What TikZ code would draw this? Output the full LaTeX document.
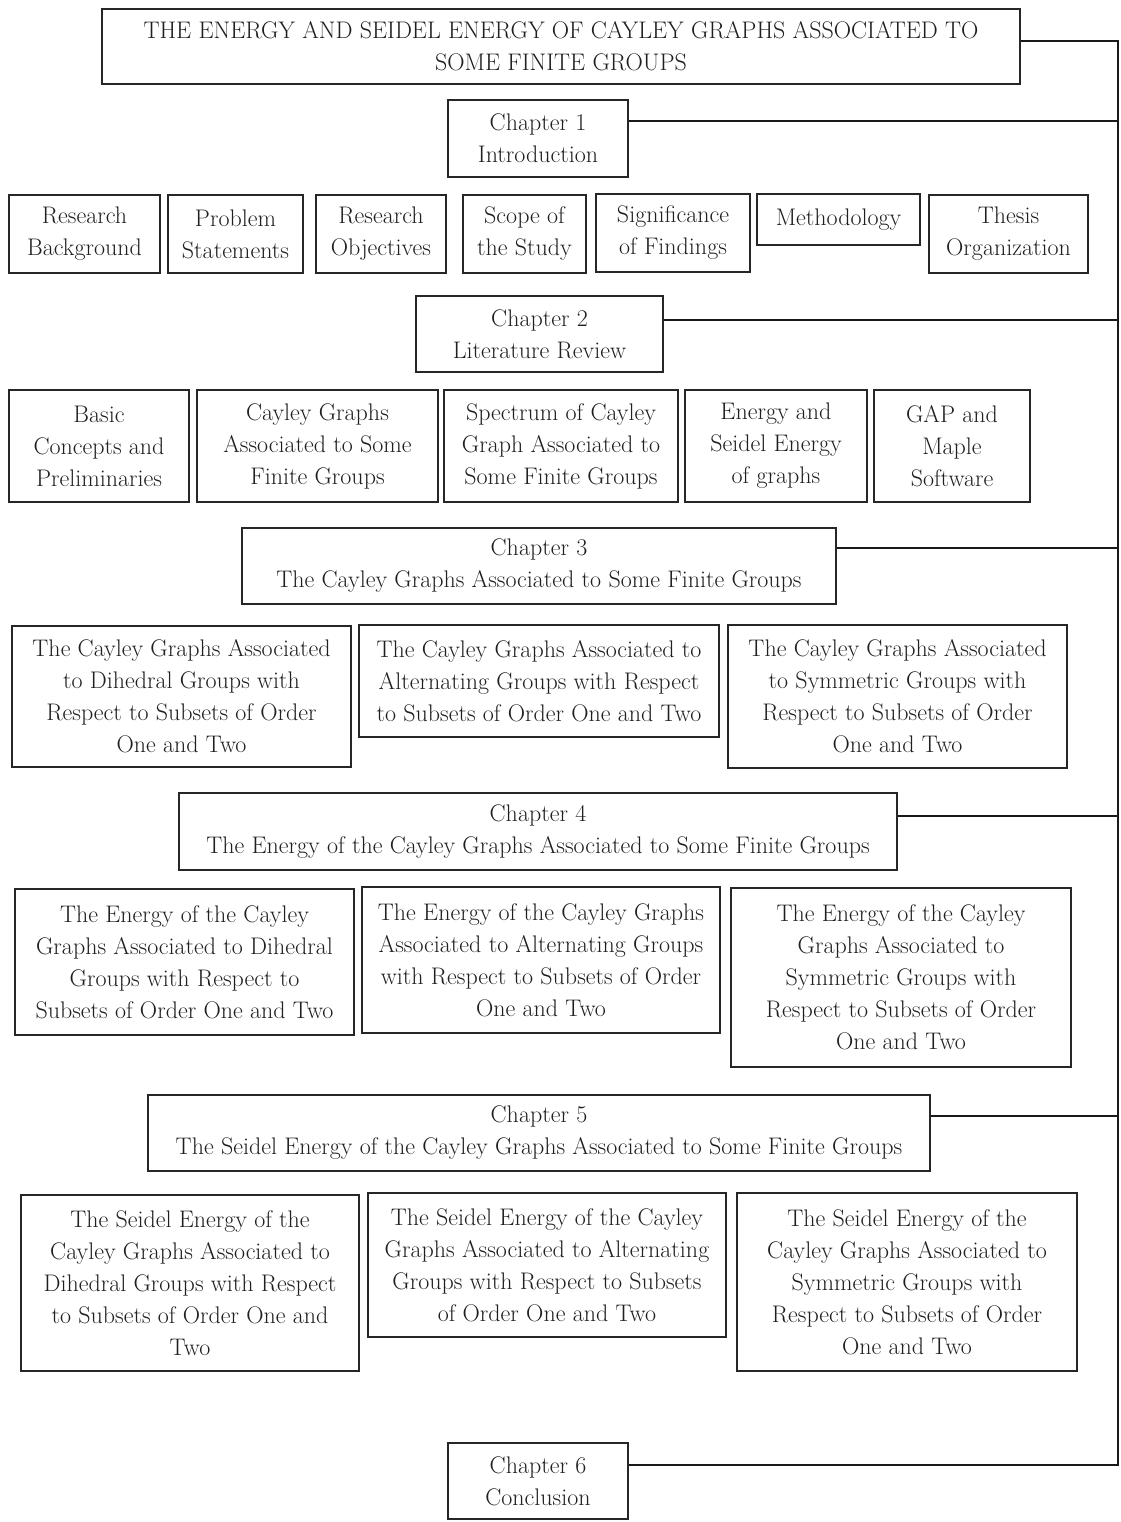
\documentclass[tikz,border=0pt]{standalone}
\usetikzlibrary{calc}
\tikzset{
  box/.style={draw=black!85, line width=1.2pt, rectangle, inner sep=0pt, align=center,
    text=black!88, font=\fontsize{24}{32}\selectfont},
  link/.style={draw=black!90, line width=1.2pt},
}
\begin{document}
\begin{tikzpicture}[x=1pt,y=-1pt]
\useasboundingbox (0,0) rectangle (1120,1522);
% title
\node[box, minimum width=918pt, minimum height=75pt] (t) at (561,46.5)
  {THE ENERGY AND SEIDEL ENERGY OF CAYLEY GRAPHS ASSOCIATED TO\\SOME FINITE GROUPS};
% chapter 1
\node[box, minimum width=180pt, minimum height=77pt] (ch1) at (538,138.5) {Chapter 1\\Introduction};
\node[box, minimum width=151pt, minimum height=78pt] (a1) at (84.5,234) {Research\\Background};
\node[box, minimum width=135pt, minimum height=78pt] (a2) at (235.5,234) {Problem\\Statements};
\node[box, minimum width=130pt, minimum height=78pt] (a3) at (381,234) {Research\\Objectives};
\node[box, minimum width=123pt, minimum height=78pt] (a4) at (524.5,234) {Scope of\\the Study};
\node[box, minimum width=154pt, minimum height=78pt] (a5) at (673,233) {Significance\\of Findings};
\node[box, minimum width=163pt, minimum height=51pt] (a6) at (838.5,219.5) {Methodology};
\node[box, minimum width=159pt, minimum height=78pt] (a7) at (1008.5,234) {Thesis\\Organization};
% chapter 2
\node[box, minimum width=247pt, minimum height=76pt] (ch2) at (539.5,334) {Chapter 2\\Literature Review};
\node[box, minimum width=180pt, minimum height=112pt] (b1) at (99,446) {Basic\\Concepts and\\Preliminaries};
\node[box, minimum width=241pt, minimum height=112pt] (b2) at (317.5,446) {Cayley Graphs\\Associated to Some\\Finite Groups};
\node[box, minimum width=234pt, minimum height=112pt] (b3) at (561,446) {Spectrum of Cayley\\Graph Associated to\\Some Finite Groups};
\node[box, minimum width=182pt, minimum height=112pt] (b4) at (776,446) {Energy and\\Seidel Energy\\of graphs};
\node[box, minimum width=156pt, minimum height=112pt] (b5) at (952,446) {GAP and\\Maple\\Software};
% chapter 3
\node[box, minimum width=594pt, minimum height=76pt] (ch3) at (539,566) {Chapter 3\\The Cayley Graphs Associated to Some Finite Groups};
\node[box, minimum width=339pt, minimum height=141pt] (c1) at (181.5,696.5) {The Cayley Graphs Associated\\to Dihedral Groups with\\Respect to Subsets of Order\\One and Two};
\node[box, minimum width=360pt, minimum height=112pt] (c2) at (539,681) {The Cayley Graphs Associated to\\Alternating Groups with Respect\\to Subsets of Order One and Two};
\node[box, minimum width=339pt, minimum height=143pt] (c3) at (897.5,696.5) {The Cayley Graphs Associated\\to Symmetric Groups with\\Respect to Subsets of Order\\One and Two};
% chapter 4
\node[box, minimum width=718pt, minimum height=77pt] (ch4) at (538,831.5) {Chapter 4\\The Energy of the Cayley Graphs Associated to Some Finite Groups};
\node[box, minimum width=339pt, minimum height=146pt] (d1) at (184.5,962) {The Energy of the Cayley\\Graphs Associated to Dihedral\\Groups with Respect to\\Subsets of Order One and Two};
\node[box, minimum width=358pt, minimum height=146pt] (d2) at (541,960) {The Energy of the Cayley Graphs\\Associated to Alternating Groups\\with Respect to Subsets of Order\\One and Two};
\node[box, minimum width=340pt, minimum height=179pt] (d3) at (901,977.5) {The Energy of the Cayley\\Graphs Associated to\\Symmetric Groups with\\Respect to Subsets of Order\\One and Two};
% chapter 5
\node[box, minimum width=782pt, minimum height=76pt] (ch5) at (539,1133) {Chapter 5\\The Seidel Energy of the Cayley Graphs Associated to Some Finite Groups};
\node[box, minimum width=338pt, minimum height=176pt] (e1) at (190,1283) {The Seidel Energy of the\\Cayley Graphs Associated to\\Dihedral Groups with Respect\\to Subsets of Order One and\\Two};
\node[box, minimum width=358pt, minimum height=144pt] (e2) at (547,1265) {The Seidel Energy of the Cayley\\Graphs Associated to Alternating\\Groups with Respect to Subsets\\of Order One and Two};
\node[box, minimum width=340pt, minimum height=178pt] (e3) at (907,1282) {The Seidel Energy of the\\Cayley Graphs Associated to\\Symmetric Groups with\\Respect to Subsets of Order\\One and Two};
% chapter 6
\node[box, minimum width=180pt, minimum height=76pt] (ch6) at (538,1481) {Chapter 6\\Conclusion};
% rail
\coordinate (r0) at (1118,41);
\coordinate (r1) at (1118,121);
\coordinate (r2) at (1118,320);
\coordinate (r3) at (1118,548);
\coordinate (r4) at (1118,816);
\coordinate (r5) at (1118,1116);
\coordinate (r6) at (1118,1465);
\draw[link] (t.east |- r0) -- (r0) -- (r6) -- (ch6.east |- r6);
\draw[link] (ch1.east |- r1) -- (r1);
\draw[link] (ch2.east |- r2) -- (r2);
\draw[link] (ch3.east |- r3) -- (r3);
\draw[link] (ch4.east |- r4) -- (r4);
\draw[link] (ch5.east |- r5) -- (r5);
\end{tikzpicture}
\end{document}
